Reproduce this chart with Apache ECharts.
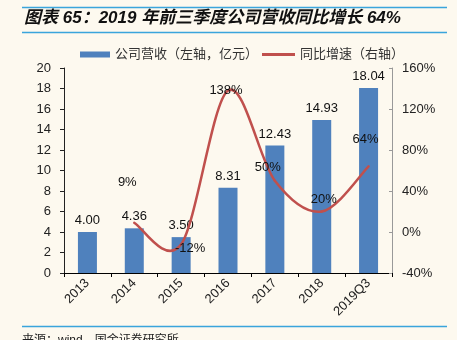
<!DOCTYPE html>
<html>
<head>
<meta charset="utf-8">
<script src="https://cdn.jsdelivr.net/npm/echarts@6/dist/echarts.min.js"></script>
<style>
  html, body { margin: 0; padding: 0; background: #FDF9EF; }
  #chart { width: 457px; height: 340px; }
</style>
</head>
<body>
<div id="chart"></div>
<script>
// Revenue (100m CNY) and YoY growth (%) by period
const categories = ['2013', '2014', '2015', '2016', '2017', '2018', '2019Q3'];
const revenue = [4.00, 4.36, 3.50, 8.31, 12.43, 14.93, 18.04];
const growth = [null, 9, -12, 138, 50, 20, 64];
const leftTicks = { min: 0, max: 20, interval: 2 };
const rightTicks = { min: -40, max: 160, interval: 40 };

const FONT = '"Liberation Sans", "Noto Sans CJK SC", sans-serif';
const BLUE = '#4F81BD';
const RED = '#C0504D';
const RULE = '#3AA5DC';

// per-point nudges for the growth labels (px), keeps them clear of the curve
const growthLabelNudge = {
  1: [-7, -40], 2: [9, 4], 3: [-2, 0], 4: [-7, -13], 5: [2, -12], 6: [-3, -27]
};

const growthSeriesData = categories.map((c, i) => [c, growth[i] === null ? '-' : growth[i]]);

// Growth curve: Catmull-Rom style cubic segments between neighbouring points,
// positioned through the chart's own coordinate system.
function renderGrowth(params, api) {
  const n = params.dataInsideLength;
  const idx = params.dataIndexInside;
  const pointAt = (k) => {
    if (k < 0 || k >= n) return null;
    const v = api.value(1, k);
    if (v === null || v === undefined || isNaN(v)) return null;
    return api.coord([api.value(0, k), v]);
  };
  const p1 = pointAt(idx);
  if (!p1) return null;
  const children = [];
  const p2 = pointAt(idx + 1);
  if (p2) {
    const p0 = pointAt(idx - 1) || p1;
    const p3 = pointAt(idx + 2) || p2;
    children.push({
      type: 'bezierCurve',
      shape: {
        x1: p1[0], y1: p1[1], x2: p2[0], y2: p2[1],
        cpx1: p1[0] + (p2[0] - p0[0]) / 6, cpy1: p1[1] + (p2[1] - p0[1]) / 6,
        cpx2: p2[0] - (p3[0] - p1[0]) / 6, cpy2: p2[1] - (p3[1] - p1[1]) / 6
      },
      style: { stroke: RED, lineWidth: 2.5, fill: null, lineCap: 'round' }
    });
  }
  const off = growthLabelNudge[idx] || [0, -12];
  children.push({
    type: 'text',
    x: p1[0] + off[0], y: p1[1] + off[1],
    z2: 10,
    style: {
      text: api.value(1, idx) + '%',
      font: '13px ' + FONT, fill: '#111',
      align: 'center', verticalAlign: 'middle'
    }
  });
  return { type: 'group', children };
}

const chart = echarts.init(document.getElementById('chart'), null, { renderer: 'canvas' });

chart.setOption({
  backgroundColor: '#FDF9EF',
  animation: false,
  textStyle: { fontFamily: FONT },
  graphic: [
    { type: 'line', shape: { x1: 22, y1: 7.5, x2: 447, y2: 7.5 }, style: { stroke: RULE, lineWidth: 1.5 } },
    { type: 'line', shape: { x1: 22, y1: 32.5, x2: 447, y2: 32.5 }, style: { stroke: RULE, lineWidth: 1.5 } },
    { type: 'line', shape: { x1: 22, y1: 326.5, x2: 447, y2: 326.5 }, style: { stroke: RULE, lineWidth: 1.5 } },
    {
      type: 'text', left: 24, top: 10,
      style: {
        text: '图表 65：2019 年前三季度公司营收同比增长 64%',
        font: 'italic bold 17px ' + FONT, fill: '#111'
      }
    },
    {
      type: 'text', left: 22, top: 335,
      style: { text: '来源：wind，国金证券研究所', font: '12px ' + FONT, fill: '#222' }
    }
  ],
  legend: [
    {
      data: [{ name: '公司营收（左轴，亿元）', icon: 'rect' }],
      left: 75, top: 43, itemWidth: 30, itemHeight: 6,
      textStyle: { fontSize: 13, color: '#333', fontFamily: FONT }
    },
    {
      data: [{ name: '同比增速（右轴）', icon: 'rect', itemStyle: { color: RED, opacity: 1 } }],
      left: 257, top: 43, itemWidth: 33, itemHeight: 3,
      textStyle: { fontSize: 13, color: '#333', fontFamily: FONT }
    }
  ],
  grid: { left: 64, right: 65, top: 68, bottom: 67 },
  xAxis: {
    type: 'category',
    data: categories,
    axisLine: { lineStyle: { color: '#000', width: 1 } },
    axisTick: { show: true, alignWithLabel: false, length: 4, lineStyle: { color: '#000' } },
    axisLabel: { rotate: 45, fontSize: 13, color: '#222', margin: 8, fontFamily: FONT }
  },
  yAxis: [
    {
      type: 'value',
      min: leftTicks.min, max: leftTicks.max, interval: leftTicks.interval,
      splitLine: { show: false },
      axisLine: { show: true, lineStyle: { color: '#222' } },
      axisTick: { show: true, length: 4, lineStyle: { color: '#222' } },
      axisLabel: { fontSize: 13, color: '#222', margin: 13, fontFamily: FONT }
    },
    {
      type: 'value',
      min: rightTicks.min, max: rightTicks.max, interval: rightTicks.interval,
      splitLine: { show: false },
      axisLine: { show: true, lineStyle: { color: '#999' } },
      axisTick: { show: true, inside: true, length: 3, lineStyle: { color: '#999' } },
      axisLabel: { fontSize: 13, color: '#222', margin: 10, formatter: '{value}%', fontFamily: FONT }
    }
  ],
  series: [
    {
      name: '公司营收（左轴，亿元）',
      type: 'bar',
      yAxisIndex: 0,
      data: revenue,
      barWidth: 19,
      itemStyle: { color: BLUE },
      z: 2,
      label: {
        show: true, position: 'top', distance: 5,
        fontSize: 13, color: '#111', fontFamily: FONT,
        formatter: p => p.value.toFixed(2)
      }
    },
    {
      name: '同比增速（右轴）',
      type: 'custom',
      yAxisIndex: 1,
      data: growthSeriesData,
      encode: { x: 0, y: 1 },
      renderItem: renderGrowth,
      itemStyle: { color: RED },
      clip: false,
      z: 3
    }
  ]
});
</script>
</body>
</html>
